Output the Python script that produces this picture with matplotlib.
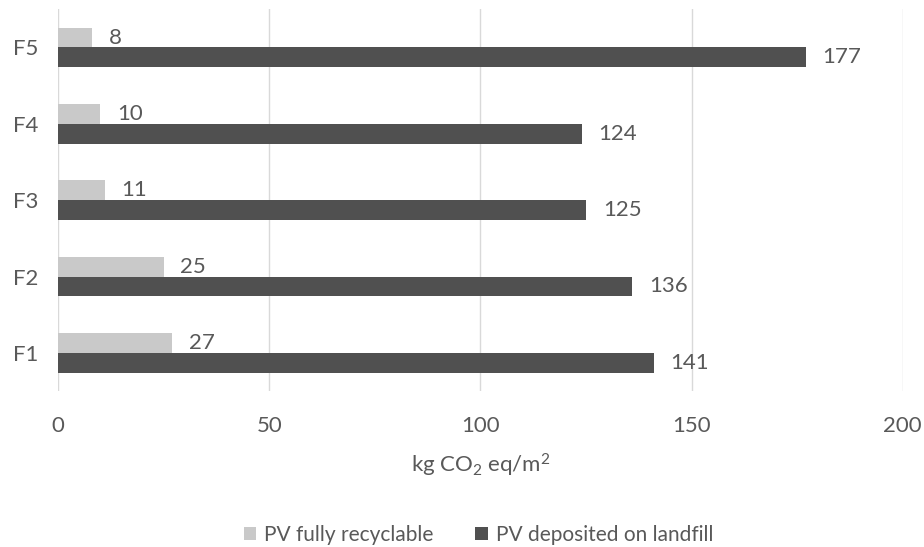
import numpy as np
import matplotlib.pyplot as plt

plt.rcParams['font.family'] = ['Lato', 'DejaVu Sans']
plt.rcParams['mathtext.default'] = 'regular'

categories = ['F1', 'F2', 'F3', 'F4', 'F5']
recyclable = [27, 25, 11, 10, 8]
landfill = [141, 136, 125, 124, 177]

text_col = '#595959'
light = '#c9c9c9'
dark = '#505050'

fig = plt.figure(figsize=(9.24, 5.47), dpi=100)
ax = fig.add_axes([0.063, 0.285, 0.914, 0.698])

y = np.arange(len(categories))
h = 0.26
b1 = ax.barh(y + h / 2, recyclable, height=h, color=light, label='PV fully recyclable')
b2 = ax.barh(y - h / 2, landfill, height=h, color=dark, label='PV deposited on landfill')

for bars, vals in ((b1, recyclable), (b2, landfill)):
    for bar, v in zip(bars, vals):
        ax.annotate(str(v), (v, bar.get_y() + bar.get_height() / 2),
                    xytext=(12, 0), textcoords='offset points',
                    va='center', ha='left', fontsize=16, color=text_col)

ax.set_xlim(0, 200)
ax.set_ylim(-0.5, 4.5)
ax.set_xticks([0, 50, 100, 150, 200])
ax.set_yticks(y)
ax.set_yticklabels(categories)
ax.grid(axis='x', color='#d9d9d9', linewidth=1)
ax.set_axisbelow(True)
for s in ax.spines.values():
    s.set_visible(False)
ax.tick_params(length=0, labelsize=16, labelcolor=text_col)
ax.tick_params(axis='x', pad=18)
ax.tick_params(axis='y', pad=14)
ax.set_xlabel('kg CO$_2$ eq/m$^2$', fontsize=16, color=text_col, labelpad=11)

fig.legend(handles=[b1, b2], loc='center', bbox_to_anchor=(0.518, 0.022), ncol=2,
           frameon=False, fontsize=15, labelcolor=text_col, handlelength=0.6,
           handleheight=0.6, handletextpad=0.4, columnspacing=2.0)

fig.savefig('out.png', dpi=100)
